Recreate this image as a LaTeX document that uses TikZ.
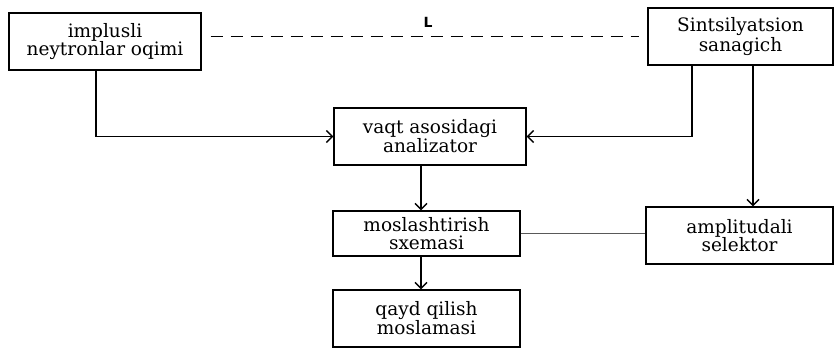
\documentclass[tikz,border=0pt]{standalone}
\usepackage{fontspec}
\setmainfont{DejaVu Serif}
\newfontfamily\belgifont{DejaVu Sans}
\usetikzlibrary{positioning,calc,arrows.meta}

\begin{document}
\begin{tikzpicture}
	[   x=1pt,y=-1pt,
		block/.style={draw=black,line width=1.4pt,fill=white,minimum width=#1,minimum height=57pt,inner sep=0pt,align=center,font=\fontsize{18.5}{18}\selectfont},
		block/.default=192pt,
		belgi/.style={inner sep=0pt,font=\belgifont\bfseries\fontsize{14}{14}\selectfont},
	]
	\tikzset{normal arrow/.style={draw,line width=1.4pt,-{Straight Barb[length=6pt,width=12pt]}}}
	\useasboundingbox (0,0) rectangle (836,349);

	\node[block] (oqim) at (105,41.5) {implusli\\neytronlar oqimi};
	\node[block=185pt] (sanagich) at (740.5,36.5) {Sintsilyatsion\\sanagich};
	\node[block] (analizator) at (430,136.5) {vaqt asosidagi\\analizator};
	\node[block=187pt,minimum height=45pt] (sxema) at (426.5,233.5) {moslashtirish\\sxemasi};
	\node[block=187pt] (selektor) at (739.5,235.5) {amplitudali\\selektor};
	\node[block=187pt] (qayd) at (426.5,318.5) {qayd qilish\\moslamasi};
	\node[belgi] (masofa) at (428,22) {L};

	% masofa
	\draw[line width=1.4pt,dash pattern=on 12pt off 8pt,shorten <=9pt,shorten >=8pt]
		(sanagich.west -| oqim.east) -- (sanagich.west);

	\path[normal arrow] ($(oqim.south)+(-9,0)$) |- (analizator.west);
	\path[normal arrow] ($(sanagich.south)+(-48.5,0)$) |- (analizator.east);
	\path[normal arrow] ($(sanagich.south)+(12.5,0)$) -- ($(selektor.north)+(13.5,0)$);
	\path[normal arrow] ($(analizator.south)+(-9,0)$) -- ($(sxema.north)+(-5.5,0)$);
	\path[normal arrow] ($(sxema.south)+(-5.5,0)$) -- ($(qayd.north)+(-5.5,0)$);

	\draw[gray!70!black,line width=1pt] (sxema.east) -- (sxema.east -| selektor.west);
\end{tikzpicture}
\end{document}
